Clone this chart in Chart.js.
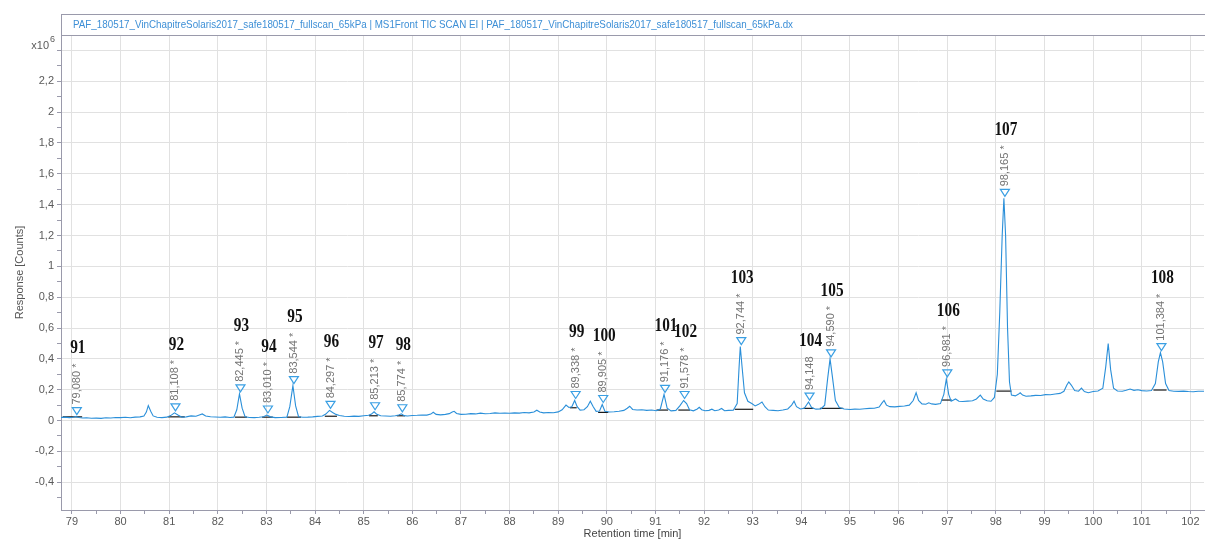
<!DOCTYPE html>
<html>
<head>
<meta charset="utf-8">
<title>TIC chromatogram</title>
<script src="https://cdn.jsdelivr.net/npm/chart.js@4.4.1/dist/chart.umd.min.js"></script>
<style>
    html, body { margin: 0; padding: 0; background: #fff; }
    #wrap { position: relative; width: 1205px; height: 541px; }
</style>
</head>
<body>
<div id="wrap"><canvas id="ticChart" width="1205" height="541"></canvas></div>
<script>
// Trace TIC : temps de rétention (min) et réponse (x10^6 counts)
const traceTime = [
    78.775, 78.85, 78.95, 79.02, 79.08, 79.14, 79.22, 79.3, 79.4, 79.5, 79.6, 79.7, 79.8, 79.9,
    80.0, 80.1, 80.2, 80.3, 80.4, 80.48, 80.53, 80.57, 80.62, 80.67, 80.75, 80.85, 80.95,
    81.03, 81.108, 81.18, 81.26, 81.35, 81.45, 81.55, 81.62, 81.68, 81.75, 81.85, 81.95,
    82.05, 82.15, 82.25, 82.33, 82.39, 82.445, 82.5, 82.56, 82.65, 82.75, 82.85, 82.94,
    83.01, 83.08, 83.18, 83.3, 83.42, 83.48, 83.544, 83.6, 83.66, 83.75, 83.85, 83.95,
    84.05, 84.15, 84.22, 84.297, 84.36, 84.43, 84.5, 84.6, 84.7, 84.8, 84.9,
    85.0, 85.1, 85.16, 85.213, 85.27, 85.35, 85.45, 85.55, 85.65, 85.72, 85.774, 85.83, 85.9,
    86.0, 86.1, 86.2, 86.3, 86.38, 86.43, 86.49, 86.58, 86.68, 86.76, 86.82, 86.86, 86.91,
    87.0, 87.1, 87.2, 87.3, 87.4, 87.5, 87.6, 87.7, 87.8, 87.9,
    88.0, 88.1, 88.2, 88.3, 88.4, 88.5, 88.56, 88.62, 88.7, 88.8, 88.9,
    89.0, 89.08, 89.16, 89.22, 89.28, 89.338, 89.39, 89.45, 89.53, 89.6, 89.66, 89.72, 89.78, 89.85, 89.905, 89.96,
    90.05, 90.15, 90.25, 90.35, 90.42, 90.47, 90.53, 90.62, 90.72, 90.82, 90.92,
    91.02, 91.1, 91.176, 91.24, 91.32, 91.42, 91.5, 91.578, 91.64, 91.7, 91.78, 91.86, 91.9, 91.95,
    92.02, 92.1, 92.16, 92.22, 92.3, 92.36, 92.42, 92.5, 92.6, 92.68, 92.72, 92.744, 92.78, 92.83, 92.9, 92.98,
    93.05, 93.12, 93.19, 93.25, 93.32, 93.42, 93.52, 93.62, 93.72, 93.8, 93.85, 93.9, 93.98,
    94.06, 94.148, 94.21, 94.3, 94.4, 94.48, 94.54, 94.59, 94.64, 94.7, 94.78, 94.88,
    95.0, 95.1, 95.2, 95.3, 95.4, 95.5, 95.6, 95.66, 95.7, 95.75, 95.82, 95.92,
    96.02, 96.12, 96.22, 96.3, 96.36, 96.41, 96.48, 96.56, 96.62, 96.68, 96.76, 96.86, 96.93, 96.981,
    97.03, 97.08, 97.17, 97.24, 97.32, 97.42, 97.52, 97.6, 97.68, 97.74, 97.82, 97.9, 97.97,
    98.03, 98.08, 98.13, 98.165, 98.2, 98.24, 98.28, 98.32, 98.4, 98.46, 98.5, 98.55, 98.62, 98.72, 98.82, 98.92,
    99.02, 99.12, 99.22, 99.32, 99.4, 99.46, 99.5, 99.55, 99.62, 99.7, 99.76, 99.82, 99.9,
    100.0, 100.1, 100.2, 100.26, 100.31, 100.36, 100.42, 100.5, 100.6, 100.68, 100.76, 100.84, 100.92,
    101.0, 101.1, 101.2, 101.28, 101.34, 101.384, 101.43, 101.49, 101.56, 101.66, 101.76, 101.86, 101.96,
    102.06, 102.16, 102.28
];
const traceResp = [
    0.020, 0.022, 0.019, 0.021, 0.026, 0.020, 0.017, 0.018, 0.015, 0.016, 0.014, 0.018, 0.017, 0.020,
    0.019, 0.021, 0.018, 0.022, 0.024, 0.030, 0.055, 0.097, 0.060, 0.030, 0.021, 0.019, 0.022,
    0.032, 0.050, 0.036, 0.022, 0.024, 0.030, 0.028, 0.036, 0.043, 0.030, 0.025, 0.023,
    0.021, 0.024, 0.020, 0.022, 0.070, 0.173, 0.080, 0.025, 0.020, 0.019, 0.021, 0.025,
    0.036, 0.024, 0.019, 0.020, 0.022, 0.090, 0.226, 0.095, 0.025, 0.021, 0.022, 0.024,
    0.027, 0.030, 0.042, 0.066, 0.052, 0.040, 0.033, 0.028, 0.026, 0.029, 0.027,
    0.031, 0.034, 0.042, 0.057, 0.040, 0.031, 0.030, 0.028, 0.031, 0.036, 0.044, 0.032, 0.030,
    0.033, 0.034, 0.036, 0.035, 0.042, 0.054, 0.040, 0.037, 0.040, 0.045, 0.055, 0.060, 0.046,
    0.040, 0.041, 0.045, 0.043, 0.048, 0.044, 0.046, 0.050, 0.047, 0.049,
    0.047, 0.050, 0.048, 0.052, 0.050, 0.056, 0.067, 0.056, 0.050, 0.052, 0.051,
    0.056, 0.070, 0.100, 0.085, 0.090, 0.130, 0.090, 0.068, 0.070, 0.090, 0.125, 0.090, 0.060, 0.062, 0.104, 0.060,
    0.055, 0.057, 0.060, 0.066, 0.080, 0.093, 0.072, 0.068, 0.070, 0.066, 0.068,
    0.064, 0.075, 0.170, 0.080, 0.063, 0.066, 0.095, 0.130, 0.110, 0.070, 0.063, 0.075, 0.086, 0.070,
    0.064, 0.066, 0.074, 0.064, 0.068, 0.078, 0.064, 0.066, 0.067, 0.110, 0.350, 0.480, 0.350, 0.180, 0.125, 0.110,
    0.095, 0.105, 0.120, 0.090, 0.068, 0.066, 0.064, 0.068, 0.075, 0.100, 0.125, 0.090, 0.075,
    0.080, 0.120, 0.085, 0.074, 0.075, 0.100, 0.270, 0.400, 0.280, 0.130, 0.085, 0.075,
    0.072, 0.074, 0.073, 0.077, 0.079, 0.080, 0.088, 0.115, 0.130, 0.100, 0.090, 0.089,
    0.092, 0.094, 0.100, 0.130, 0.180, 0.130, 0.108, 0.106, 0.115, 0.108, 0.105, 0.110, 0.170, 0.270,
    0.170, 0.125, 0.140, 0.125, 0.124, 0.126, 0.128, 0.140, 0.165, 0.140, 0.128, 0.125, 0.150,
    0.300, 0.700, 1.200, 1.441, 1.200, 0.600, 0.250, 0.165, 0.160, 0.170, 0.180, 0.165, 0.158, 0.160, 0.163, 0.162,
    0.168, 0.167, 0.172, 0.176, 0.190, 0.230, 0.250, 0.230, 0.195, 0.190, 0.210, 0.188, 0.180,
    0.188, 0.192, 0.210, 0.350, 0.500, 0.330, 0.210, 0.192, 0.190, 0.196, 0.204, 0.196, 0.200,
    0.194, 0.192, 0.195, 0.240, 0.380, 0.440, 0.380, 0.240, 0.195, 0.190, 0.189, 0.191, 0.188,
    0.187, 0.190, 0.190
];

// Pics intégrés
const peakNumbers = ['91', '92', '93', '94', '95', '96', '97', '98', '99', '100', '101', '102', '103', '104', '105', '106', '107', '108'];
const peakTimes = [79.080, 81.108, 82.445, 83.010, 83.544, 84.297, 85.213, 85.774, 89.338, 89.905, 91.176, 91.578, 92.744, 94.148, 94.590, 96.981, 98.165, 101.384];
const peakApex = [0.026, 0.050, 0.173, 0.036, 0.226, 0.066, 0.057, 0.044, 0.130, 0.104, 0.170, 0.130, 0.480, 0.120, 0.400, 0.270, 1.441, 0.440];
const peakLabels = ['79,080 *', '81,108 *', '82,445 *', '83,010 *', '83,544 *', '84,297 *', '85,213 *', '85,774 *', '89,338 *', '89,905 *', '91,176 *', '91,578 *', '92,744 *', '94,148', '94,590 *', '96,981 *', '98,165 *', '101,384 *'];

// Lignes de base sous chaque pic (début, fin, niveau)
const baseStart = [78.81, 80.97, 82.35, 82.91, 83.42, 84.20, 85.11, 85.68, 89.24, 89.82, 91.02, 91.47, 92.63, 94.03, 94.38, 96.88, 98.01, 101.24];
const baseEnd = [79.21, 81.32, 82.60, 83.13, 83.71, 84.45, 85.29, 85.85, 89.38, 90.03, 91.26, 91.71, 93.01, 94.25, 94.86, 97.09, 98.32, 101.51];
const baseLevel = [0.024, 0.024, 0.022, 0.022, 0.022, 0.028, 0.031, 0.031, 0.083, 0.053, 0.068, 0.068, 0.073, 0.079, 0.079, 0.133, 0.191, 0.198];

// Axes
const xTickValues = [79, 80, 81, 82, 83, 84, 85, 86, 87, 88, 89, 90, 91, 92, 93, 94, 95, 96, 97, 98, 99, 100, 101, 102];
const yTickValues = [-0.4, -0.2, 0, 0.2, 0.4, 0.6, 0.8, 1, 1.2, 1.4, 1.6, 1.8, 2, 2.2];
const yTickLabels = ['-0,4', '-0,2', '0', '0,2', '0,4', '0,6', '0,8', '1', '1,2', '1,4', '1,6', '1,8', '2', '2,2'];

const headerText = 'PAF_180517_VinChapitreSolaris2017_safe180517_fullscan_65kPa | MS1Front TIC SCAN EI | PAF_180517_VinChapitreSolaris2017_safe180517_fullscan_65kPa.dx';

const SANS = '"Liberation Sans", Arial, sans-serif';
const SERIF = '"Liberation Serif", "Times New Roman", serif';
Chart.defaults.font.family = SANS;
Chart.defaults.font.size = 11;

const traceColor = '#2a8fd9';
const axisColor = '#9a9aab';
const gridColor = '#e1e1e1';

// Points de la trace
const tracePoints = traceTime.map((t, i) => ({ x: t, y: traceResp[i] }));

// Segments de ligne de base
const baseDatasets = baseStart.map((s, i) => ({
    data: [{ x: s, y: baseLevel[i] }, { x: baseEnd[i], y: baseLevel[i] }],
    borderColor: '#1a1a1a',
    borderWidth: 1.2,
    pointRadius: 0
}));

// Graduations majeures + mineures
const xAllTicks = [];
for (let k = 79 * 2; k <= 102 * 2; k++) xAllTicks.push(k / 2);
const yAllTicks = [];
for (let k = -5; k <= 24; k++) yAllTicks.push(k / 10);

const isWhole = v => Math.abs(v - Math.round(v)) < 1e-6;
const isYMajor = v => Math.abs(v * 5 - Math.round(v * 5)) < 1e-6;

// En-tête + marqueurs des pics
const annotations = {
    id: 'annotations',
    afterDatasetsDraw(chart) {
        const { ctx, scales: { x, y }, chartArea } = chart;
        ctx.save();
        ctx.beginPath();
        ctx.rect(chartArea.left, chartArea.top, chartArea.right - chartArea.left, chartArea.bottom - chartArea.top);
        ctx.clip();
        peakTimes.forEach((t, i) => {
            const px = x.getPixelForValue(t) + 1;
            const py = y.getPixelForValue(peakApex[i]);
            const tip = py - 2;
            const top = tip - 7;
            // triangle
            ctx.beginPath();
            ctx.moveTo(px - 4.5, top);
            ctx.lineTo(px + 4.5, top);
            ctx.lineTo(px, tip);
            ctx.closePath();
            ctx.strokeStyle = '#3a9fe3';
            ctx.lineWidth = 1.2;
            ctx.stroke();
            // temps de rétention vertical
            ctx.save();
            ctx.translate(px, top - 3);
            ctx.rotate(-Math.PI / 2);
            ctx.font = '11px ' + SANS;
            ctx.fillStyle = '#747474';
            ctx.textAlign = 'left';
            ctx.textBaseline = 'middle';
            ctx.fillText(peakLabels[i], 0, 0);
            const w = ctx.measureText(peakLabels[i]).width;
            ctx.restore();
            // numéro du pic
            ctx.save();
            ctx.translate(px + 1, top - 3 - w - 15);
            ctx.scale(0.85, 1);
            ctx.font = 'bold 18px ' + SERIF;
            ctx.fillStyle = '#111';
            ctx.textAlign = 'center';
            ctx.textBaseline = 'middle';
            ctx.fillText(peakNumbers[i], 0, 0);
            ctx.restore();
        });
        ctx.restore();
    },
    afterDraw(chart) {
        const { ctx, chartArea } = chart;
        ctx.save();
        // cadre du titre
        ctx.strokeStyle = axisColor;
        ctx.lineWidth = 1;
        ctx.strokeRect(chartArea.left + 0.5, 14.5, chart.width - chartArea.left, chartArea.top - 14);
        ctx.font = '11px ' + SANS;
        ctx.fillStyle = '#3d8fd6';
        ctx.textBaseline = 'middle';
        const tw = ctx.measureText(headerText).width;
        ctx.translate(73, 25);
        ctx.scale(Math.min(1, 720 / tw), 1);
        ctx.fillText(headerText, 0, 0);
        ctx.restore();
        // facteur d'échelle x10^6
        ctx.save();
        ctx.fillStyle = '#5a5a5a';
        ctx.textBaseline = 'middle';
        ctx.textAlign = 'right';
        ctx.font = '11px ' + SANS;
        ctx.fillText('x10', 49, 46);
        ctx.textAlign = 'left';
        ctx.font = '9px ' + SANS;
        ctx.fillText('6', 50, 40);
        ctx.restore();
    }
};

const ctxTic = document.getElementById('ticChart').getContext('2d');
new Chart(ctxTic, {
    type: 'line',
    data: {
        datasets: [{
            data: tracePoints,
            borderColor: traceColor,
            borderWidth: 1.1,
            pointRadius: 0,
            tension: 0
        }].concat(baseDatasets)
    },
    options: {
        responsive: false,
        animation: false,
        devicePixelRatio: 1,
        layout: { padding: { top: 35, right: 1, left: 0, bottom: 0 } },
        plugins: { legend: { display: false }, tooltip: { enabled: false } },
        scales: {
            x: {
                type: 'linear',
                min: 78.775,
                max: 102.28,
                afterBuildTicks: s => { s.ticks = xAllTicks.map(v => ({ value: v })); },
                afterFit: s => { s.height = 31; },
                ticks: {
                    autoSkip: false,
                    maxRotation: 0,
                    padding: 1,
                    color: '#5a5a5a',
                    callback: v => isWhole(v) && xTickValues.includes(Math.round(v)) ? String(Math.round(v)) : ''
                },
                grid: {
                    color: c => (c.tick && isWhole(c.tick.value)) ? gridColor : 'rgba(0,0,0,0)',
                    tickColor: axisColor,
                    tickLength: 4
                },
                border: { color: axisColor, width: 1 },
                title: {
                    display: true,
                    text: 'Retention time [min]',
                    color: '#444',
                    font: { size: 11 },
                    padding: { top: 0, bottom: 0 }
                }
            },
            y: {
                type: 'linear',
                min: -0.58,
                max: 2.5,
                afterBuildTicks: s => { s.ticks = yAllTicks.map(v => ({ value: v })); },
                afterFit: s => { s.width = 61; },
                ticks: {
                    padding: 3,
                    color: '#5a5a5a',
                    callback: v => {
                        const i = yTickValues.findIndex(t => Math.abs(t - v) < 1e-6);
                        return i >= 0 ? yTickLabels[i] : '';
                    }
                },
                grid: {
                    color: c => (c.tick && isYMajor(c.tick.value)) ? gridColor : 'rgba(0,0,0,0)',
                    tickColor: axisColor,
                    tickLength: 4
                },
                border: { color: axisColor, width: 1 },
                title: {
                    display: true,
                    text: 'Response [Counts]',
                    color: '#555',
                    font: { size: 11 },
                    padding: { top: 13, bottom: 0 }
                }
            }
        }
    },
    plugins: [annotations]
});
</script>
</body>
</html>
